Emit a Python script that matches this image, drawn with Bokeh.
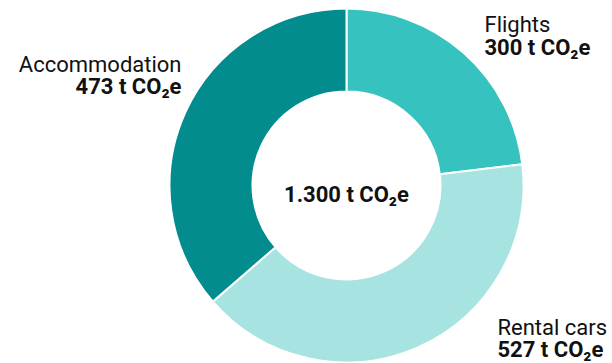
import math
from bokeh.plotting import figure
from bokeh.models import Label
from bokeh.embed import file_html
from bokeh.resources import INLINE

# Data
categories = ["Flights", "Rental cars", "Accommodation"]
values = [300, 527, 473]
value_labels = ["300 t CO₂e", "527 t CO₂e", "473 t CO₂e"]
total_label = "1.300 t CO₂e"
colors = ["#36C3BF", "#A6E3E1", "#038C8D"]

W, H = 612, 363
p = figure(width=W, height=H, x_range=(0, W), y_range=(0, H),
           output_backend="svg", toolbar_location=None, min_border=0)
p.axis.visible = False
p.grid.visible = False
p.outline_line_color = None
p.background_fill_color = "white"
p.border_fill_color = "white"

total = sum(values)
starts, ends = [], []
acc = 0.0
for v in values:
    a0 = math.pi / 2 - 2 * math.pi * acc / total
    acc += v
    a1 = math.pi / 2 - 2 * math.pi * acc / total
    starts.append(a0)
    ends.append(a1)

cx, cy = 346, H - 185
p.annular_wedge(x=[cx] * len(values), y=[cy] * len(values),
                inner_radius=94, outer_radius=177,
                inner_radius_units="screen", outer_radius_units="screen",
                start_angle=starts, end_angle=ends, direction="clock",
                fill_color=colors, line_color="white", line_width=2)

FONT = "Roboto"
FS = "22px"

def add_label(x, y, text, align, bold):
    p.add_layout(Label(x=x, y=y, x_units="screen", y_units="screen", text=text,
                       text_font=FONT, text_font_size=FS, text_align=align,
                       text_baseline="alphabetic", text_color="#111111",
                       text_font_style="bold" if bold else "normal"))

# Flights
add_label(484, H - 24, categories[0], "left", False)
add_label(484, H - 47, value_labels[0], "left", True)
# Rental cars
add_label(497, H - 327, categories[1], "left", False)
add_label(497, H - 349, value_labels[1], "left", True)
# Accommodation
add_label(181, H - 64, categories[2], "right", False)
add_label(181, H - 86, value_labels[2], "right", True)
# Center total
add_label(cx, H - 194, total_label, "center", True)

open("out.html", "w").write(file_html(p, INLINE))
